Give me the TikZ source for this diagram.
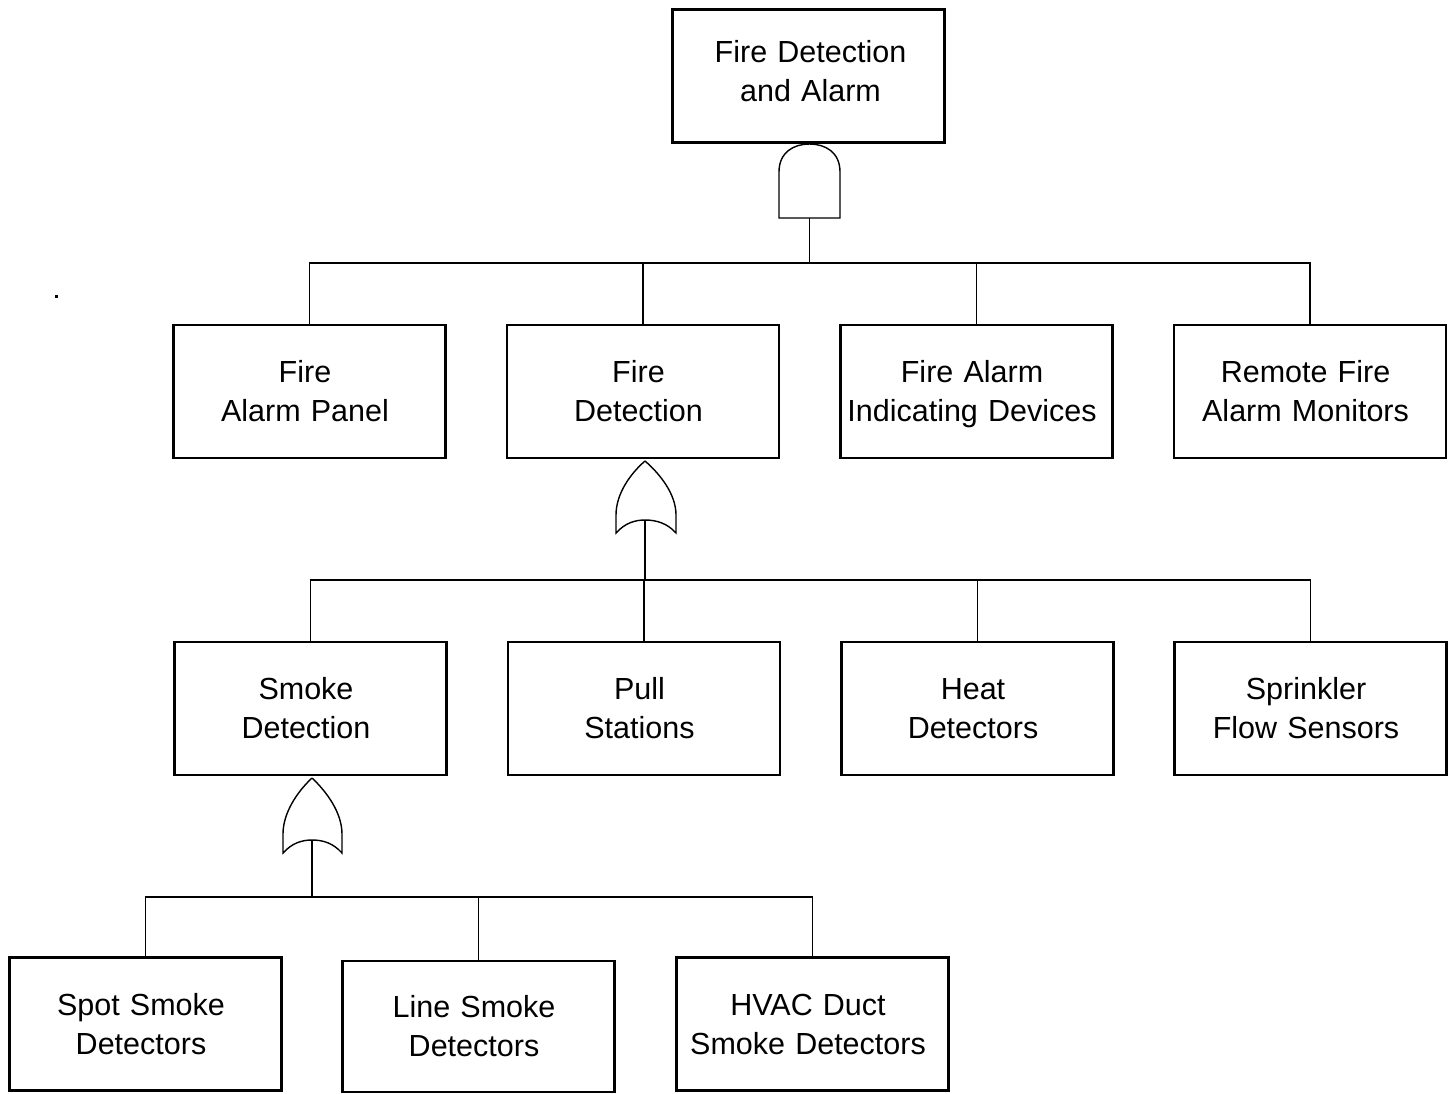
\documentclass[tikz,border=0pt]{standalone}
\usepackage{fontspec}
\setmainfont{Liberation Sans}
\begin{document}
\begin{tikzpicture}[x=1pt,y=-1pt,
  box/.style={draw,line width=2.8pt,minimum width=272pt,minimum height=133pt,text width=272pt,align=center,inner sep=0pt,
    font=\fontsize{30.5}{39}\selectfont,
    execute at begin node={\leftskip=0pt plus 1fil\rightskip=9pt plus 1fil\parfillskip=0pt}},
  conn/.style={line width=1.4pt},
  gate/.style={line width=1.4pt,fill=white}]
\useasboundingbox (0,0) rectangle (1455,1093);
% top
\node[box,execute at begin node={\leftskip=4pt plus 1fil\rightskip=0pt plus 1fil\parfillskip=0pt}] (top) at (808.5,76)
  {Fire Detection\\and Alarm\par\vspace{10pt}\hrule height 0pt};
% row 2
\node[box] (a2) at (309.5,391.5) {Fire\\Alarm Panel};
\node[box] (b2) at (643,391.5) {Fire\\Detection};
\node[box] (c2) at (976.5,391.5) {Fire Alarm\\Indicating Devices\par\vspace{-6pt}\hrule height 0pt};
\node[box] (d2) at (1310,391.5) {Remote Fire\\Alarm Monitors};
% row 3
\node[box] (a3) at (310.5,708.5) {Smoke\\Detection};
\node[box] (b3) at (644,708.5) {Pull\\Stations};
\node[box] (c3) at (977.5,708.5) {Heat\\Detectors};
\node[box] (d3) at (1310.5,708.5) {Sprinkler\\Flow Sensors};
% row 4
\node[box] (a4) at (145.5,1024) {Spot Smoke\\Detectors};
\node[box,minimum height=131pt] (b4) at (478.5,1026.5) {Line Smoke\\Detectors};
\node[box] (c4) at (812.5,1024) {HVAC Duct\\Smoke Detectors};
% AND gate below top
\coordinate (andin) at (809.5,144);
\coordinate (andout) at (809.5,218);
\draw[gate] (779,218) -- (779,172) .. controls (779,152) and (794,144) .. (andin)
  .. controls (825,144) and (840,152) .. (840,172) -- (840,218) -- cycle;
\draw[conn] (andout) -- ++(0,45) coordinate (bus1);
\draw[conn] (a2.north) |- (bus1) -| (d2.north);
\draw[conn] (b2.north) -- (b2.north |- bus1);
\draw[conn] (c2.north) -- (c2.north |- bus1);
% OR gate below Fire Detection
\coordinate (or1in) at (645,461);
\coordinate (or1out) at (645,520);
\draw[gate] (or1in) .. controls (630,474) and (616,494) .. (616,515) -- (616,533)
  .. controls (625,523) and (635,520) .. (or1out)
  .. controls (656,520) and (667,523) .. (676,533) -- (676,515)
  .. controls (676,494) and (660,474) .. (or1in);
\draw[conn] (or1out) -- ++(0,60) coordinate (bus2);
\draw[conn] (a3.north) |- (bus2) -| (d3.north);
\draw[conn] (b3.north) -- (b3.north |- bus2);
\draw[conn] (c3.north) -- (c3.north |- bus2);
% OR gate below Smoke Detection
\coordinate (or2in) at (312,778);
\coordinate (or2out) at (312,840);
\draw[gate] (or2in) .. controls (297,792) and (283,813) .. (283,834) -- (283,853)
  .. controls (292,843) and (302,840) .. (or2out)
  .. controls (323,840) and (333,843) .. (342,853) -- (342,834)
  .. controls (342,813) and (327,792) .. (or2in);
\draw[conn] (or2out) -- ++(0,57) coordinate (bus3);
\draw[conn] (a4.north) |- (bus3) -| (c4.north);
\draw[conn] (b4.north) -- (b4.north |- bus3);
% stray dot
\fill (54.5,294.5) rectangle (57.5,297.5);
\end{tikzpicture}
\end{document}
